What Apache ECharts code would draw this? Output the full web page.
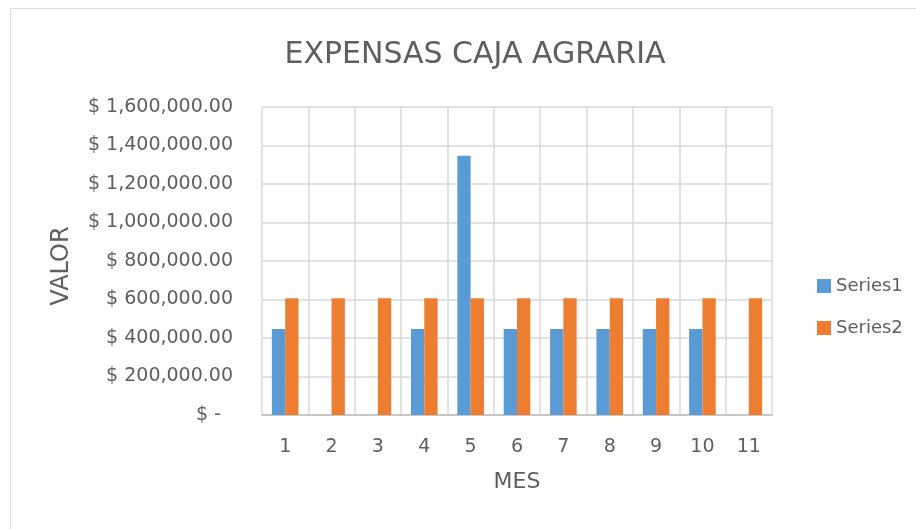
<!DOCTYPE html>
<html>
<head>
<meta charset="utf-8">
<script src="https://cdn.jsdelivr.net/npm/echarts@6/dist/echarts.min.js"></script>
<style>
  html, body { margin: 0; padding: 0; background: #fff; }
  #chart { width: 916px; height: 529px; }
</style>
</head>
<body>
<div id="chart"></div>
<script>
// datos
var meses = ['1', '2', '3', '4', '5', '6', '7', '8', '9', '10', '11'];
var series1 = [447000, '-', '-', 447000, 1347000, 447000, 447000, 447000, 447000, 447000, '-'];
var series2 = [606000, 606000, 606000, 606000, 606000, 606000, 606000, 606000, 606000, 606000, 606000];

var fuente = '"DejaVu Sans", sans-serif';
var gris = '#5f5f5f';

function formatoDolar(v) {
    if (v === 0) return '$ -  ';
    var s = v.toFixed(2).replace(/\B(?=(\d{3})+(?!\d))/g, ',');
    return '$ ' + s;
}

var chart = echarts.init(document.getElementById('chart'));

var option = {
    backgroundColor: '#fff',
    animation: false,
    graphic: [
        {
            type: 'rect',
            shape: {x: 10.5, y: 8.5, width: 1000, height: 1000},
            style: {fill: 'none', stroke: '#d9d9d9', lineWidth: 1}
        }
    ],
    title: {
        text: 'EXPENSAS CAJA AGRARIA',
        left: 470,
        textAlign: 'center',
        top: 35,
        textStyle: {fontFamily: fuente, fontSize: 30, fontWeight: 'normal', color: gris}
    },
    legend: {
        orient: 'vertical',
        left: 812,
        top: 272,
        itemWidth: 14,
        itemHeight: 14,
        itemGap: 24,
        icon: 'rect',
        textStyle: {fontFamily: fuente, fontSize: 18, color: gris},
        data: ['Series1', 'Series2']
    },
    grid: {
        left: 262,
        right: 144,
        top: 107,
        bottom: 114
    },
    xAxis: {
        type: 'category',
        data: meses,
        name: 'MES',
        nameLocation: 'middle',
        nameGap: 56,
        nameTextStyle: {fontFamily: fuente, fontSize: 22, color: gris},
        axisLine: {lineStyle: {color: '#bfbfbf', width: 1.5}},
        axisTick: {show: false},
        axisLabel: {fontFamily: fuente, fontSize: 19, color: gris, margin: 23},
        splitLine: {show: true, lineStyle: {color: '#d9d9d9', width: 1.5}}
    },
    yAxis: {
        type: 'value',
        min: 0,
        max: 1600000,
        interval: 200000,
        name: 'VALOR',
        nameLocation: 'middle',
        nameRotate: 90,
        nameGap: 188,
        nameTextStyle: {fontFamily: fuente, fontSize: 24, color: gris, padding: [0, 10, 0, 0]},
        axisLine: {show: false},
        axisTick: {show: false},
        axisLabel: {fontFamily: fuente, fontSize: 19, color: gris, margin: 29, formatter: formatoDolar},
        splitLine: {lineStyle: {color: '#d9d9d9', width: 1.5}}
    },
    series: [
        {
            name: 'Series1',
            type: 'bar',
            data: series1,
            barWidth: 13.3,
            barGap: '0%',
            itemStyle: {color: '#5b9bd5'}
        },
        {
            name: 'Series2',
            type: 'bar',
            data: series2,
            barWidth: 13.3,
            barGap: '0%',
            itemStyle: {color: '#ed7d31'}
        }
    ]
};
chart.setOption(option);
</script>
</body>
</html>
